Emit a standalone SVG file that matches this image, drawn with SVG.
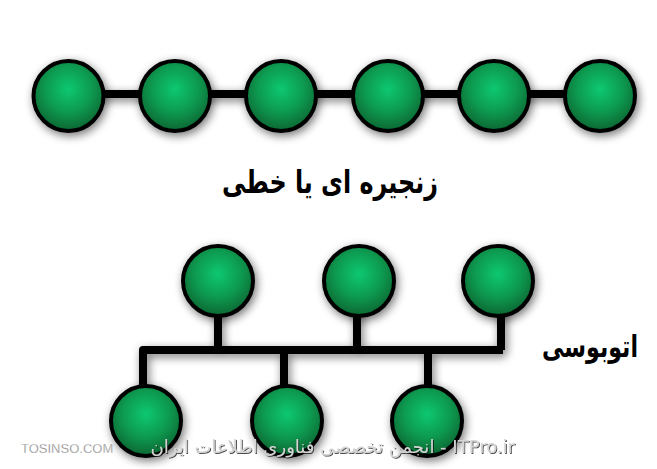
<svg xmlns="http://www.w3.org/2000/svg" width="657" height="469" viewBox="0 0 657 469">
<defs>
<radialGradient id="ball" cx="50%" cy="40%" r="60%">
<stop offset="0" stop-color="#10c870"/>
<stop offset="0.55" stop-color="#0b9a50"/>
<stop offset="1" stop-color="#066631"/>
</radialGradient>
<filter id="sh" x="-40%" y="-40%" width="180%" height="180%">
<feGaussianBlur in="SourceAlpha" stdDeviation="5"/>
<feOffset dx="2" dy="3" result="b"/>
<feComponentTransfer><feFuncA type="linear" slope="0.55"/></feComponentTransfer>
<feMerge><feMergeNode/><feMergeNode in="SourceGraphic"/></feMerge>
</filter>
<filter id="wsh" x="-10%" y="-30%" width="120%" height="160%">
<feOffset in="SourceAlpha" dx="1" dy="1"/>
<feGaussianBlur stdDeviation="0.6"/>
<feComponentTransfer><feFuncA type="linear" slope="0.7"/></feComponentTransfer>
<feMerge><feMergeNode/><feMergeNode in="SourceGraphic"/></feMerge>
</filter>
</defs>
<style>
.n{fill:url(#ball);stroke:#000;stroke-width:4}
.c{stroke:#000;stroke-width:8;fill:none;stroke-linejoin:round}
.lbl{font-family:"DejaVu Sans",sans-serif;font-weight:bold;fill:#000}
.wm{font-family:"DejaVu Sans",sans-serif;fill:#d4d4d4}
</style>
<g id="connectors" filter="url(#sh)">
<line class="c" x1="68" y1="94" x2="600" y2="94"/>
<path class="c" d="M218,300 V350 M357,300 V350 M501,300 V350 M143,400 V350 H503 M284,400 V350 M428,400 V350"/>
</g>
<g filter="url(#sh)">
<g id="n1"><circle class="n" cx="68.5" cy="96" r="35"/></g>
<g id="n2"><circle class="n" cx="175" cy="96" r="35"/></g>
<g id="n3"><circle class="n" cx="281" cy="96" r="35"/></g>
<g id="n4"><circle class="n" cx="388" cy="96" r="35"/></g>
<g id="n5"><circle class="n" cx="494" cy="96" r="35"/></g>
<g id="n6"><circle class="n" cx="600" cy="96" r="35"/></g>
<g id="b1"><circle class="n" cx="218" cy="281" r="35"/></g>
<g id="b2"><circle class="n" cx="359" cy="281" r="35"/></g>
<g id="b3"><circle class="n" cx="498" cy="281" r="35"/></g>
<g id="b4"><circle class="n" cx="146" cy="421" r="35"/></g>
<g id="b5"><circle class="n" cx="287" cy="421" r="35"/></g>
<g id="b6"><circle class="n" cx="427" cy="421" r="35"/></g>
</g>
<text class="lbl" x="330" y="193" font-size="32" text-anchor="middle" textLength="216" lengthAdjust="spacingAndGlyphs">زنجیره ای یا خطی</text>
<text class="lbl" x="638" y="357" font-size="30" text-anchor="end" textLength="96" lengthAdjust="spacingAndGlyphs">اتوبوسی</text>
<text x="21" y="453" font-family="Liberation Sans, sans-serif" font-size="13" fill="#7a7a7a" stroke="#fff" stroke-width="0.3">TOSINSO.COM</text>
<text class="wm" x="515" y="453" font-size="18" direction="rtl" unicode-bidi="embed" filter="url(#wsh)">ITPro.ir - انجمن تخصصی فناوری اطلاعات ایران</text>
</svg>
